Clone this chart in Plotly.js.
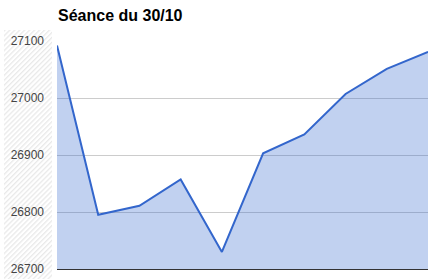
<!DOCTYPE html>
<html>
<head>
<meta charset="utf-8">
<script src="https://cdn.plot.ly/plotly-3.0.1.min.js"></script>
<style>html,body{margin:0;padding:0;background:#fff;}#chart{width:437px;height:279px;}</style>
</head>
<body>
<div id="chart"></div>
<script>
var sessions = [0, 1, 2, 3, 4, 5, 6, 7, 8, 9];
var values = [27092, 26795, 26811, 26857, 26730, 26903, 26936, 27007, 27051, 27081];
var yTicks = [26700, 26800, 26900, 27000, 27100];
var titleText = "Séance du 30/10";

var hatchSvg = '<svg xmlns="http://www.w3.org/2000/svg" width="48" height="249">' +
  '<defs><pattern id="p" width="3.5" height="3.5" patternUnits="userSpaceOnUse" patternTransform="rotate(45)">' +
  '<rect width="3.5" height="3.5" fill="#ffffff"/><rect width="1.3" height="3.5" fill="#e9e9e9"/></pattern></defs>' +
  '<rect width="48" height="249" fill="url(#p)"/></svg>';
var hatchUri = 'data:image/svg+xml;charset=utf-8,' + encodeURIComponent(hatchSvg);

var L = 57, R = 9, T = 41, B = 10, W = 437, H = 279;
var pw = W - L - R, ph = H - T - B;

var trace = {
  x: sessions,
  y: values,
  type: 'scatter',
  mode: 'lines',
  fill: 'tozeroy',
  fillcolor: 'rgba(51,102,204,0.3)',
  line: {color: '#3366cc', width: 2},
  hoverinfo: 'skip'
};

var layout = {
  width: W, height: H,
  margin: {l: L, r: R, t: T, b: B, pad: 0},
  paper_bgcolor: '#ffffff',
  plot_bgcolor: 'rgba(0,0,0,0)',
  showlegend: false,
  font: {family: 'Arial, "Liberation Sans", sans-serif', color: '#444444', size: 12},
  title: {
    text: '<b>' + titleText + '</b>',
    font: {family: 'Arial, "Liberation Sans", sans-serif', size: 16, color: '#000000'},
    xref: 'container', yref: 'container',
    x: 58 / W, xanchor: 'left',
    y: 1 - 15.5 / H, yanchor: 'middle'
  },
  xaxis: {
    range: [0, 9],
    showgrid: false,
    zeroline: false,
    showticklabels: false,
    ticks: '',
    showline: true,
    linecolor: '#333333',
    linewidth: 1,
    fixedrange: true
  },
  yaxis: {
    range: [26700, 27100],
    tickvals: yTicks,
    ticktext: yTicks.map(String),
    showgrid: true,
    gridcolor: '#cccccc',
    gridwidth: 1,
    zeroline: false,
    showline: false,
    ticks: '',
    ticklabelstandoff: 12,
    tickfont: {size: 12, color: '#444444'},
    fixedrange: true
  },
  images: [{
    source: hatchUri,
    xref: 'paper', yref: 'paper',
    x: (4 - L) / pw, y: (H - B - 30) / ph,
    sizex: 48 / pw, sizey: 249 / ph,
    xanchor: 'left', yanchor: 'top',
    sizing: 'stretch',
    layer: 'below'
  }]
};

Plotly.newPlot('chart', [trace], layout, {staticPlot: true, displayModeBar: false});
</script>
</body>
</html>
